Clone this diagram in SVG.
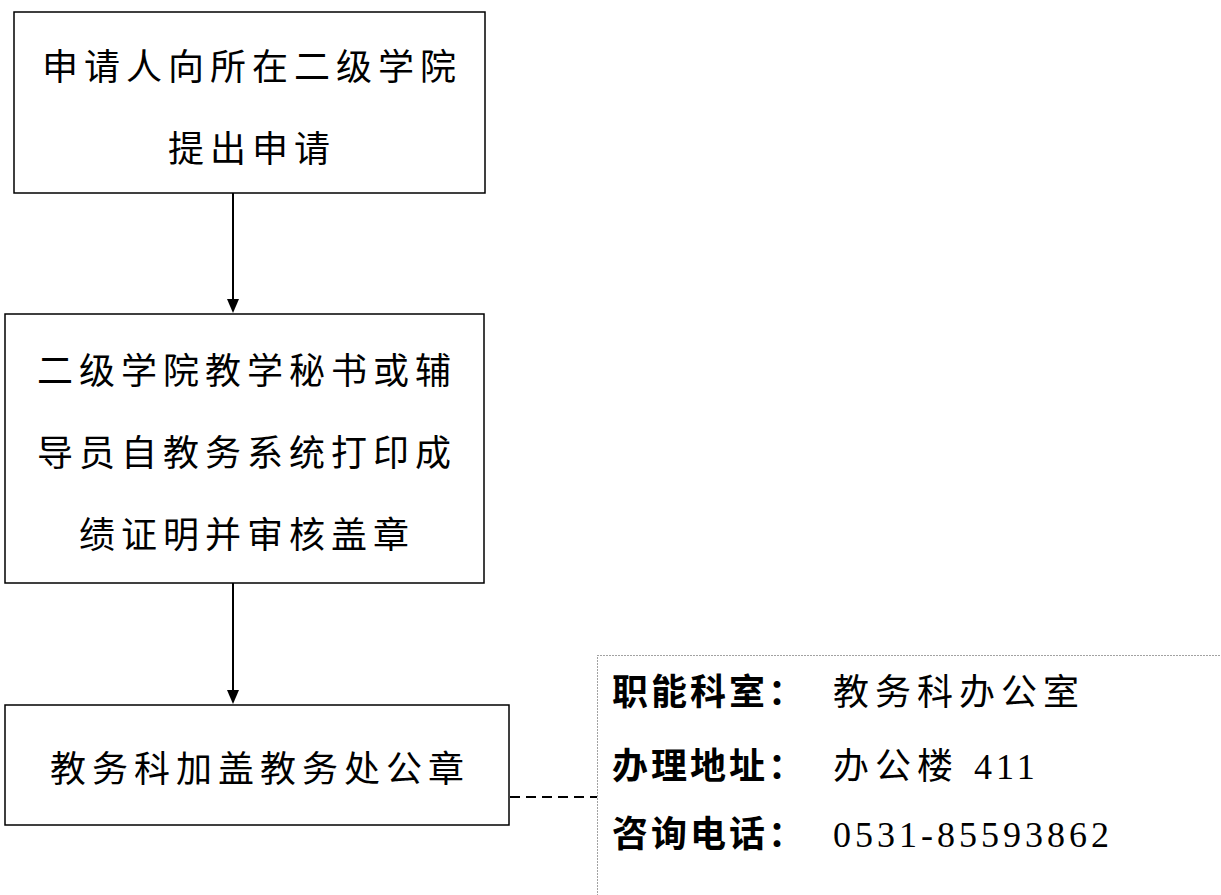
<svg xmlns="http://www.w3.org/2000/svg" width="1221" height="895" viewBox="0 0 1221 895">
<style>
.box{fill:#fff;stroke:#000;stroke-width:1.5}
.t{font-family:"Liberation Serif","Noto Sans CJK SC",serif;font-size:36px;fill:#000;letter-spacing:6px;dominant-baseline:central}
.b{font-weight:bold;letter-spacing:3px}
.v{letter-spacing:4px}
.line{stroke:#000;stroke-width:2;fill:none}
</style>
<rect x="0" y="0" width="1221" height="895" fill="#fff"/>
<g id="connectors">
<line class="line" x1="233" y1="193" x2="233" y2="300"/>
<path d="M227,299 L239,299 L233,313 Z" fill="#000"/>
<line class="line" x1="233" y1="583" x2="233" y2="691"/>
<path d="M227,690 L239,690 L233,704 Z" fill="#000"/>
<line class="line" x1="510" y1="797" x2="597" y2="797" stroke-dasharray="10,6"/>
</g>
<g id="node1">
<rect class="box" x="14" y="12" width="471" height="181"/>
<text class="t" x="252" y="68" text-anchor="middle">申请人向所在二级学院</text>
<text class="t" x="252" y="150" text-anchor="middle">提出申请</text>
</g>
<g id="node2">
<rect class="box" x="5" y="314" width="479" height="269"/>
<text class="t" x="247" y="372" text-anchor="middle">二级学院教学秘书或辅</text>
<text class="t" x="247" y="454" text-anchor="middle">导员自教务系统打印成</text>
<text class="t" x="247" y="536" text-anchor="middle">绩证明并审核盖章</text>
</g>
<g id="node3">
<rect class="box" x="5" y="705" width="504" height="120"/>
<text class="t" x="260" y="770" text-anchor="middle">教务科加盖教务处公章</text>
</g>
<g id="info">
<rect x="597.5" y="655.5" width="640" height="260" fill="none" stroke="#444" stroke-width="1" stroke-dasharray="1,2"/>
<text class="t b" x="612" y="693">职能科室：</text>
<text class="t" x="833" y="693">教务科办公室</text>
<text class="t b" x="612" y="767">办理地址：</text>
<text class="t" x="833" y="767">办公楼 <tspan class="v">411</tspan></text>
<text class="t b" x="612" y="835">咨询电话：</text>
<text class="t v" x="833" y="835">0531-85593862</text>
</g>
</svg>
